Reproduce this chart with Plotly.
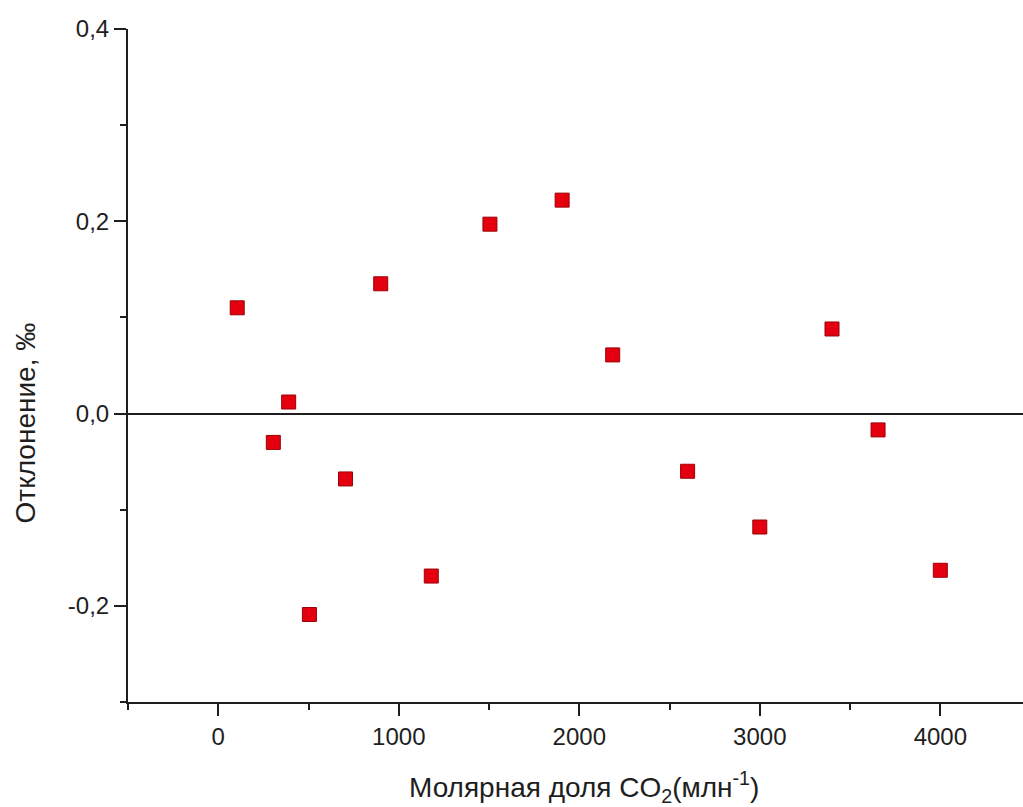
import plotly.graph_objects as go

# Data
co2_ppm = [105, 305, 390, 505, 705, 900, 1180, 1505, 1905, 2185, 2600, 3000, 3400, 3655, 4000]
deviation = [0.110, -0.030, 0.012, -0.209, -0.068, 0.135, -0.169, 0.197, 0.222, 0.061,
             -0.060, -0.118, 0.088, -0.017, -0.163]

x_tickvals = [0, 1000, 2000, 3000, 4000]
x_ticktext = ["0", "1000", "2000", "3000", "4000"]
x_minor = [-500, 500, 1500, 2500, 3500]
y_tickvals = [-0.2, 0.0, 0.2, 0.4]
y_ticktext = ["-0,2", "0,0", "0,2", "0,4"]
y_minor = [-0.3, -0.1, 0.1, 0.3]

x_title = "Молярная доля CO<sub>2</sub>(млн<sup>-1</sup>)"
y_title = "Отклонение, ‰"

font_family = "Liberation Sans, Arial, sans-serif"
axis_color = "#1e1e1e"

fig = go.Figure()
fig.add_trace(go.Scatter(
    x=co2_ppm, y=deviation, mode="markers",
    marker=dict(symbol="square", size=14, color="#e5000f",
                line=dict(color="#9a0008", width=1)),
    showlegend=False,
))

fig.update_layout(
    width=1023, height=807,
    margin=dict(l=128, r=0, t=29, b=105),
    paper_bgcolor="white", plot_bgcolor="white",
    font=dict(family=font_family, size=24, color=axis_color),
    xaxis=dict(
        range=[-500, 4458], showgrid=False, zeroline=False,
        showline=True, linecolor=axis_color, linewidth=2,
        tickmode="array", tickvals=x_tickvals, ticktext=x_ticktext,
        ticks="outside", ticklen=12, tickwidth=2, tickcolor=axis_color,
        minor=dict(tickmode="array", tickvals=x_minor, ticks="outside",
                   ticklen=6, tickwidth=2, tickcolor=axis_color),
        tickfont=dict(size=24), fixedrange=True,
    ),
    yaxis=dict(
        range=[-0.3, 0.4], showgrid=False,
        zeroline=True, zerolinecolor=axis_color, zerolinewidth=2,
        showline=True, linecolor=axis_color, linewidth=2,
        tickmode="array", tickvals=y_tickvals, ticktext=y_ticktext,
        ticks="outside", ticklen=12, tickwidth=2, tickcolor=axis_color,
        minor=dict(tickmode="array", tickvals=y_minor, ticks="outside",
                   ticklen=6, tickwidth=2, tickcolor=axis_color),
        tickfont=dict(size=24), fixedrange=True,
    ),
    annotations=[
        dict(text=x_title, xref="paper", yref="paper", x=0.5095, y=-0.127,
             xanchor="center", yanchor="middle", showarrow=False,
             font=dict(size=28, color=axis_color, family=font_family)),
        dict(text=y_title, xref="paper", yref="paper", x=-0.115, y=0.414,
             xanchor="center", yanchor="middle", textangle=-90, showarrow=False,
             font=dict(size=28, color=axis_color, family=font_family)),
    ],
)

fig.write_html("out.html")
